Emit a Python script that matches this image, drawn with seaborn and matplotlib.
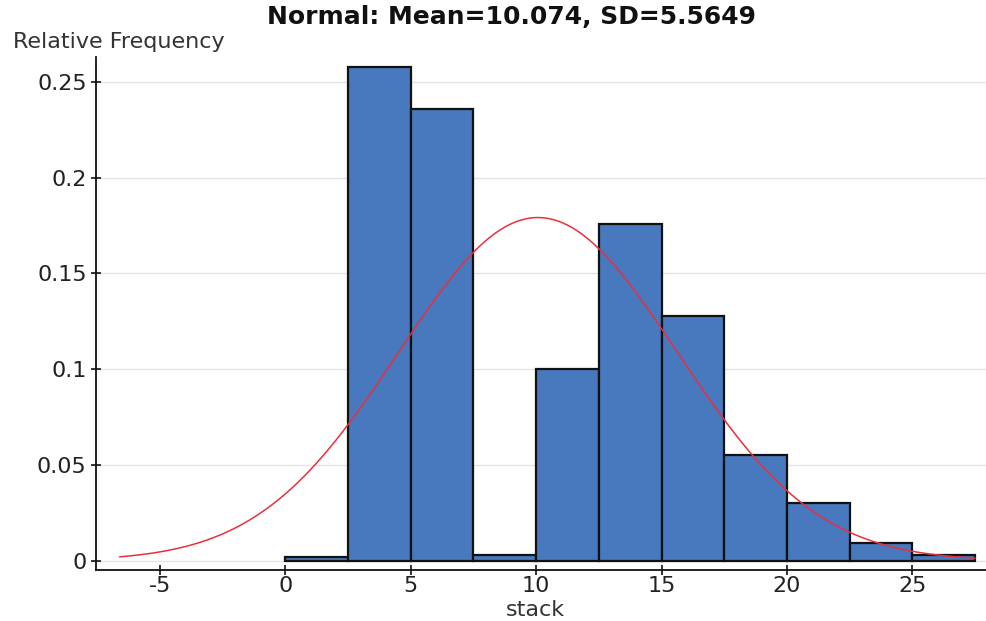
import numpy as np
import pandas as pd
import matplotlib
matplotlib.use("Agg")
import matplotlib.pyplot as plt
import seaborn as sns

# Histogram bins (width 2.5) and relative frequency of each bin
bin_edges = [0, 2.5, 5, 7.5, 10, 12.5, 15, 17.5, 20, 22.5, 25, 27.5]
rel_freq = [0.002, 0.258, 0.236, 0.003, 0.100, 0.176, 0.128, 0.055, 0.030, 0.009, 0.003]

# Fitted normal distribution
mean = 10.074
sd = 5.5649
curve_range = (-6.6, 27.5)

x_ticks = [-5, 0, 5, 10, 15, 20, 25]
y_ticks = [0, 0.05, 0.1, 0.15, 0.2, 0.25]
y_tick_labels = ["0", "0.05", "0.1", "0.15", "0.2", "0.25"]

sns.set_theme(style="white")
plt.rcParams["font.family"] = ["DejaVu Sans"]

fig = plt.figure(figsize=(9.87, 6.21), dpi=100)
ax = fig.add_axes([0.097, 0.082, 0.903, 0.826])

# Bars: one weighted observation per bin centre
centers = [(a + b) / 2 for a, b in zip(bin_edges[:-1], bin_edges[1:])]
df = pd.DataFrame({"stack": centers, "freq": rel_freq})
sns.histplot(data=df, x="stack", weights="freq", bins=bin_edges, stat="count",
             color="#4878bd", alpha=1.0, edgecolor="#111111", linewidth=1.6,
             ax=ax, zorder=2)

# Normal density scaled to the bin width so it sits on the relative-frequency axis
width = bin_edges[1] - bin_edges[0]
xs = np.linspace(curve_range[0], curve_range[1], 400)
ys = width * np.exp(-0.5 * ((xs - mean) / sd) ** 2) / (sd * np.sqrt(2 * np.pi))
sns.lineplot(x=xs, y=ys, color="#e8303c", linewidth=1.1, ax=ax, zorder=3)

ax.set_xlim(-7.55, 27.97)
ax.set_ylim(-0.0049, 0.263)
ax.set_xticks(x_ticks)
ax.set_xticklabels([str(t) for t in x_ticks])
ax.set_yticks(y_ticks)
ax.set_yticklabels(y_tick_labels)

ax.yaxis.grid(True, color="#e4e4e4", linewidth=1.0, zorder=0)
ax.xaxis.grid(False)
ax.set_axisbelow(True)

for side in ["top", "right"]:
    ax.spines[side].set_visible(False)
for side in ["left", "bottom"]:
    ax.spines[side].set_color("#111111")
    ax.spines[side].set_linewidth(1.3)

ax.tick_params(axis="both", direction="inout", length=7, width=1.2,
               colors="#111111", labelsize=16, labelcolor="#222222", pad=3)
ax.tick_params(axis="x", bottom=True, pad=1)
ax.tick_params(axis="y", left=True)

ax.set_xlabel("")
ax.set_ylabel("")

fig.text(0.542, 0.017, "stack", fontsize=16, color="#333333",
         ha="center", va="center")
fig.text(0.013, 0.933, "Relative Frequency", fontsize=16, color="#333333",
         ha="left", va="center")
fig.text(0.518, 0.972, "Normal: Mean=10.074, SD=5.5649", fontsize=18,
         fontweight="bold", color="#111111", ha="center", va="center")

fig.savefig("out.png", dpi=100)
